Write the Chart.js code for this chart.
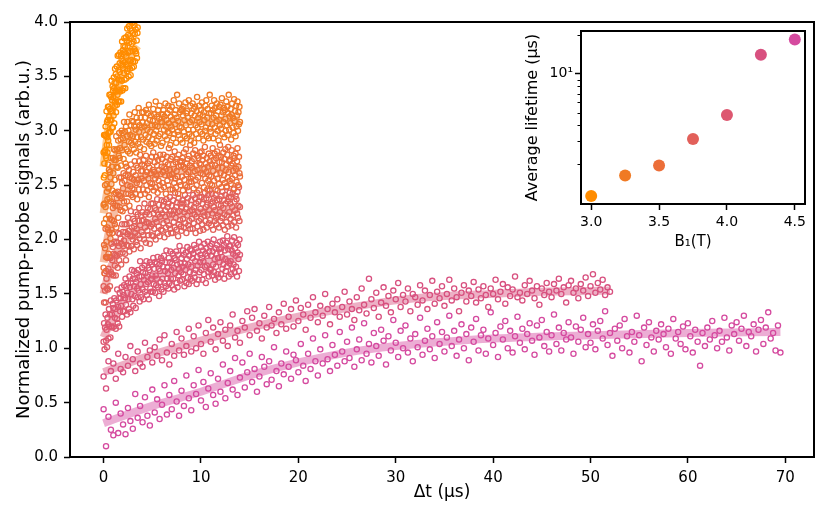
<!DOCTYPE html>
<html>
<head>
<meta charset="utf-8">
<script src="https://cdn.jsdelivr.net/npm/chart.js@4.4.0/dist/chart.umd.min.js"></script>
<style>
  body { margin: 0; background: #fff; }
  #wrap { position: relative; width: 830px; height: 519px; }
  #inset { position: absolute; left: 500px; top: 20px; }
</style>
</head>
<body>
<div id="wrap">
  <canvas id="mainChart" width="830" height="519"></canvas>
  <canvas id="inset" width="320" height="240"></canvas>
</div>
<script>
// field values B1 (T) and average lifetimes (us) for the inset
const fields = [3.0, 3.25, 3.5, 3.75, 4.0, 4.25, 4.5];
const lifetimes = [1.14, 1.64, 1.96, 3.14, 4.81, 14.0, 18.3];
const colors = ['#ff8c00', '#f07a24', '#ec6e38', '#e2605a', '#dd5770', '#d8507f', '#d54a9f'];

// sampling step (us) of each trace
const steps = [0.025, 0.05, 0.05, 0.05, 0.05, 0.25, 0.25];

// normalized signal (one row per 0.5 us / 1 us)
const y30 = [
  2.80,2.57,2.96,2.70,2.81,2.59,2.96,2.82,3.04,2.77,2.95,2.75,3.18,2.87,3.08,2.94,2.80,3.10,3.22,2.91,
  2.98,3.22,2.87,3.13,3.33,2.99,3.20,3.10,3.33,2.99,3.18,3.31,3.10,3.46,3.03,3.28,3.18,3.41,3.03,3.37,
  3.31,3.14,3.49,3.39,3.07,3.44,3.26,3.57,3.23,3.36,3.52,3.17,3.44,3.36,3.59,3.24,3.50,3.33,3.69,3.38,
  3.27,3.56,3.47,3.70,3.37,3.27,3.62,3.54,3.36,3.72,3.47,3.69,3.27,3.61,3.66,3.46,3.82,3.37,3.60,3.74,
  3.64,3.39,3.78,3.53,3.72,3.85,3.47,3.63,3.77,3.39,3.71,3.61,3.86,3.48,3.69,3.83,3.55,3.94,3.61,3.78,
  3.57,3.88,3.72,3.50,3.96,3.81,3.64,3.87,3.57,3.94,3.73,3.51,3.85,4.03,3.65,3.80,3.92,3.58,3.99,3.73,
  3.90,3.64,4.00,3.82,3.59,4.07,3.75,3.97,3.89,3.64,4.05,3.73,3.93,4.12,3.71,4.02,3.83,3.67,4.09,3.90,
  3.95];

const y325 = [
  2.32,2.15,2.33,2.50,2.30,2.19,2.51,2.44,2.37,2.69,2.47,2.64,2.38,2.62,2.57,2.75,2.51,2.67,2.45,2.75,
  2.61,2.83,2.73,2.55,2.82,2.73,2.95,2.67,2.83,2.66,2.91,2.77,2.98,2.75,2.84,2.92,2.68,3.00,2.82,2.98,
  2.93,2.74,3.08,2.87,2.99,2.70,3.04,2.83,2.95,3.08,2.81,3.00,2.90,3.15,2.79,2.96,3.05,2.89,3.09,2.87,
  2.95,3.08,2.83,3.04,3.17,2.90,3.01,2.80,3.12,2.94,3.08,2.88,3.21,2.99,3.05,2.85,3.12,2.94,3.03,3.17,
  3.08,2.92,3.17,2.83,3.04,3.12,2.96,3.19,2.90,3.07,3.01,3.16,2.94,3.24,2.88,3.10,2.99,3.14,2.86,3.05,
  2.92,3.09,3.20,2.97,3.15,2.88,3.05,3.27,3.00,2.91,3.13,3.04,3.19,2.95,3.11,3.23,2.97,3.08,2.86,3.15,
  3.08,2.89,3.15,3.19,3.01,3.13,2.95,3.25,3.04,3.10,2.92,3.16,2.99,3.23,3.07,2.98,3.19,2.87,3.13,3.04,
  3.22,3.01,3.10,2.93,3.28,2.97,3.15,3.06,3.19,2.89,3.12,3.33,2.99,3.09,2.96,3.25,3.04,3.17,2.92,3.19,
  3.03,3.20,2.89,3.14,3.22,2.99,3.10,2.95,3.26,3.05,3.16,2.93,3.18,3.12,3.01,3.28,2.97,3.08,3.23,2.91,
  3.16,2.95,3.10,3.25,3.01,3.20,2.89,3.14,3.22,3.05,2.97,3.18,3.31,3.03,3.12,2.93,3.23,3.08,3.15,2.99,
  3.19,3.06,3.26,2.97,3.14,2.91,3.17,3.10,3.00,3.23,3.03,3.28,2.95,3.12,3.20,3.07,2.93,3.16,3.33,3.02,
  2.99,3.16,3.23,3.06,3.19,2.93,3.12,3.28,3.03,3.21,2.97,3.14,3.09,3.25,3.00,3.18,2.91,3.22,3.10,3.05,
  3.24,3.02,3.14,3.30,2.97,3.17,3.08,3.21,2.94,3.19,3.11,3.00,3.27,3.05,3.22,2.96,3.16,3.33,3.01,3.13,
  3.07,3.20,2.92,3.15,3.25,3.03,3.12,2.98,3.29,3.09,3.18,2.95,3.23,3.04,3.14,3.27,3.00,3.17,3.06,3.22,
  3.08];

const y35 = [
  1.74,1.95,1.69,1.92,2.10,1.84,1.98,1.84,2.11,2.09,1.87,2.22,2.06,2.19,2.01,2.35,2.09,2.18,2.06,2.29,
  2.33,2.17,2.42,2.14,2.31,2.43,2.11,2.38,2.31,2.44,2.20,2.41,2.57,2.30,2.40,2.27,2.57,2.38,2.52,2.26,
  2.47,2.61,2.35,2.54,2.29,2.59,2.42,2.67,2.35,2.50,2.59,2.42,2.64,2.31,2.57,2.49,2.69,2.41,2.56,2.47,
  2.39,2.62,2.55,2.46,2.72,2.42,2.59,2.68,2.52,2.37,2.66,2.55,2.46,2.72,2.51,2.78,2.41,2.63,2.56,2.69,
  2.63,2.46,2.73,2.54,2.68,2.42,2.59,2.77,2.50,2.62,2.45,2.70,2.56,2.39,2.66,2.72,2.52,2.61,2.48,2.76,
  2.51,2.64,2.80,2.45,2.62,2.71,2.56,2.48,2.76,2.59,2.68,2.43,2.73,2.54,2.64,2.50,2.78,2.60,2.46,2.67,
  2.74,2.52,2.62,2.78,2.48,2.67,2.59,2.71,2.42,2.65,2.76,2.54,2.69,2.50,2.84,2.59,2.64,2.46,2.74,2.57,
  2.60,2.76,2.46,2.69,2.65,2.52,2.81,2.56,2.71,2.48,2.63,2.74,2.58,2.42,2.78,2.67,2.53,2.72,2.50,2.68,
  2.72,2.58,2.75,2.45,2.67,2.80,2.55,2.65,2.50,2.83,2.60,2.70,2.48,2.74,2.62,2.77,2.53,2.68,2.87,2.56,
  2.53,2.72,2.66,2.58,2.79,2.47,2.74,2.63,2.82,2.55,2.68,2.50,2.77,2.64,2.57,2.75,2.45,2.70,2.80,2.61,
  2.69,2.81,2.52,2.73,2.60,2.77,2.48,2.65,2.85,2.56,2.70,2.62,2.75,2.46,2.67,2.54,2.79,2.59,2.72,2.51,
  2.77,2.58,2.69,2.50,2.84,2.63,2.73,2.54,2.79,2.68,2.46,2.75,2.60,2.81,2.56,2.66,2.77,2.51,2.71,2.87,
  2.61,2.76,2.48,2.71,2.66,2.55,2.80,2.59,2.74,2.52,2.83,2.64,2.69,2.49,2.78,2.57,2.85,2.62,2.72,2.54,
  2.73,2.51,2.68,2.82,2.56,2.70,2.63,2.77,2.47,2.75,2.59,2.79,2.65,2.53,2.72,2.84,2.50,2.67,2.76,2.61,
  2.58];

const y375 = [
  1.57,1.42,1.69,1.53,1.42,1.71,1.64,1.55,1.83,1.54,1.73,1.68,1.84,1.57,1.83,1.70,1.96,1.68,1.81,1.93,
  1.67,1.87,1.98,1.76,1.86,1.67,1.98,1.85,1.97,1.74,2.06,1.94,1.81,2.05,1.87,2.01,1.77,1.96,2.14,1.88,
  2.07,1.94,1.99,2.14,1.87,2.07,1.81,2.14,1.95,2.05,2.20,1.94,2.08,1.89,2.15,2.03,2.26,1.94,2.11,2.03,
  2.00,2.19,1.91,2.12,2.17,2.06,2.25,1.98,2.10,1.95,2.23,2.04,2.17,2.29,2.01,2.13,1.92,2.22,2.07,2.17,
  2.25,2.04,2.18,2.00,2.33,2.11,2.23,1.97,2.16,2.25,2.08,2.29,2.04,2.15,2.23,1.96,2.28,2.12,2.33,2.04,
  2.14,2.33,2.03,2.24,2.10,2.29,2.19,2.00,2.27,2.16,2.37,2.06,2.23,2.12,2.32,2.03,2.21,2.27,2.09,2.36,
  2.24,2.08,2.31,2.15,2.35,2.02,2.27,2.21,2.11,2.37,2.17,2.30,2.05,2.33,2.13,2.23,2.39,2.10,2.26,2.06,
  2.31,2.23,2.06,2.36,2.16,2.27,2.11,2.43,2.20,2.30,2.09,2.34,2.25,2.03,2.38,2.14,2.26,2.18,2.33,2.12,
  2.08,2.30,2.36,2.19,2.33,2.11,2.25,2.41,2.15,2.28,2.06,2.34,2.22,2.38,2.13,2.45,2.17,2.26,2.10,2.32,
  2.36,2.19,2.27,2.10,2.41,2.15,2.30,2.23,2.38,2.06,2.33,2.21,2.43,2.12,2.25,2.35,2.17,2.39,2.08,2.28,
  2.19,2.39,2.14,2.33,2.25,2.09,2.37,2.22,2.43,2.17,2.30,2.38,2.11,2.32,2.23,2.41,2.15,2.27,2.45,2.18,
  2.33,2.13,2.42,2.24,2.35,2.09,2.30,2.38,2.17,2.27,2.41,2.20,2.14,2.36,2.45,2.22,2.32,2.11,2.37,2.25,
  2.17,2.31,2.40,2.20,2.44,2.13,2.29,2.36,2.23,2.09,2.41,2.33,2.16,2.48,2.22,2.35,2.12,2.39,2.25,2.43,
  2.33,2.19,2.39,2.13,2.30,2.42,2.22,2.46,2.16,2.35,2.27,2.40,2.11,2.37,2.24,2.44,2.20,2.31,2.48,2.17,
  2.30];

const y40 = [
  1.06,1.23,0.99,1.19,1.31,1.07,1.17,1.01,1.28,1.22,1.09,1.36,1.20,1.31,1.10,1.44,1.20,1.31,1.19,1.41,
  1.37,1.20,1.46,1.28,1.36,1.18,1.44,1.27,1.54,1.23,1.38,1.46,1.20,1.51,1.34,1.46,1.39,1.56,1.29,1.52,
  1.34,1.49,1.58,1.34,1.46,1.64,1.40,1.57,1.31,1.51,1.60,1.45,1.36,1.66,1.56,1.33,1.60,1.50,1.72,1.45,
  1.64,1.39,1.57,1.71,1.48,1.64,1.37,1.61,1.69,1.55,1.47,1.72,1.53,1.66,1.43,1.80,1.59,1.47,1.66,1.74,
  1.54,1.70,1.45,1.63,1.76,1.52,1.69,1.59,1.80,1.49,1.66,1.61,1.74,1.45,1.72,1.79,1.55,1.64,1.52,1.77,
  1.67,1.52,1.83,1.59,1.73,1.79,1.51,1.67,1.58,1.78,1.64,1.84,1.56,1.73,1.48,1.77,1.71,1.61,1.83,1.54,
  1.80,1.64,1.75,1.52,1.85,1.60,1.71,1.79,1.57,1.90,1.64,1.74,1.69,1.55,1.83,1.60,1.79,1.89,1.64,1.72,
  1.58,1.78,1.87,1.64,1.74,1.54,1.83,1.69,1.81,1.89,1.60,1.77,1.56,1.86,1.67,1.73,1.94,1.62,1.78,1.70,
  1.83,1.63,1.75,1.90,1.68,1.86,1.57,1.78,1.72,1.88,1.60,1.82,1.93,1.65,1.77,1.59,1.85,1.70,1.91,1.64,
  1.75,1.90,1.62,1.83,1.87,1.69,1.95,1.65,1.80,1.72,1.92,1.59,1.84,1.76,1.89,1.63,1.98,1.70,1.79,1.86,
  1.93,1.72,1.83,1.63,1.90,1.80,1.68,1.96,1.75,1.87,1.60,1.92,1.76,1.85,1.98,1.70,1.66,1.89,1.73,1.94,
  1.72,1.85,1.96,1.67,1.89,1.77,2.00,1.70,1.82,1.63,1.92,1.75,1.87,1.95,1.68,1.83,1.65,1.91,1.79,1.98,
  1.88,1.68,1.92,1.84,1.73,1.99,1.77,1.95,1.64,1.90,1.82,1.71,1.97,1.75,2.03,1.80,1.91,1.66,1.94,1.78,
  1.94,1.80,1.68,1.90,1.99,1.73,1.87,1.77,2.02,1.70,1.92,1.85,1.75,1.97,1.66,1.88,1.95,1.82,1.71,2.00,
  1.86];

const y425 = [0.74,0.63,0.88,0.79, 0.86,0.72,0.95,0.81, 0.78,0.92,0.84,1.02, 0.90,0.79,0.97,0.86,
  0.83,1.05,0.92,0.98, 0.87,1.01,0.93,1.08, 0.89,1.12,0.96,0.85, 1.04,0.93,1.15,0.98,
  1.09,0.94,1.02,1.18, 0.97,1.11,1.00,1.21, 1.04,0.95,1.14,1.26, 1.06,1.19,0.99,1.13,
  1.24,1.07,1.17,1.02, 1.21,1.31,1.10,1.16, 1.05,1.25,1.19,1.34, 1.12,1.28,1.36,1.16,
  1.23,1.09,1.30,1.19, 1.38,1.21,1.27,1.14, 1.33,1.22,1.41,1.18, 1.29,1.36,1.20,1.44,
  1.25,1.37,1.31,1.17, 1.40,1.28,1.47,1.33, 1.24,1.39,1.30,1.50, 1.36,1.22,1.41,1.33,
  1.45,1.29,1.38,1.52, 1.31,1.43,1.36,1.26, 1.47,1.35,1.55,1.40, 1.32,1.64,1.45,1.37,
  1.51,1.29,1.42,1.56, 1.39,1.48,1.33,1.53, 1.45,1.60,1.38,1.49, 1.43,1.55,1.34,1.50,
  1.47,1.40,1.58,1.44, 1.53,1.36,1.49,1.62, 1.41,1.52,1.46,1.57, 1.39,1.50,1.63,1.44,
  1.55,1.47,1.34,1.51, 1.58,1.43,1.53,1.48, 1.61,1.42,1.54,1.46, 1.57,1.49,1.38,1.55,
  1.50,1.63,1.45,1.52, 1.59,1.41,1.56,1.48, 1.54,1.66,1.47,1.51, 1.44,1.58,1.50,1.62,
  1.53,1.46,1.57,1.40, 1.55,1.49,1.60,1.52, 1.47,1.59,1.53,1.64, 1.50,1.56,1.42,1.58,
  1.62,1.51,1.55,1.46, 1.59,1.53,1.65,1.48, 1.57,1.68,1.51,1.60, 1.54,1.63,1.49,1.56, 1.52];

const y45 = [0.44,0.10,0.37,0.25, 0.20,0.50,0.22,0.40, 0.30,0.21,0.45,0.33, 0.26,0.58,0.36,0.47,
  0.32,0.55,0.38,0.29, 0.62,0.41,0.53,0.35, 0.48,0.66,0.39,0.57, 0.44,0.70,0.51,0.38,
  0.61,0.47,0.75,0.54, 0.43,0.66,0.58,0.80, 0.52,0.69,0.46,0.63, 0.77,0.57,0.49,0.72,
  0.60,0.85,0.54,0.68, 0.79,0.62,0.91,0.57, 0.73,0.87,0.64,0.78, 0.95,0.69,0.81,0.60,
  0.74,0.92,0.83,0.67, 0.88,0.71,1.01,0.79, 0.65,0.86,0.76,0.97, 0.83,0.72,0.94,0.89,
  0.78,1.04,0.84,0.70, 0.95,0.81,1.09,0.88, 0.75,0.99,0.86,1.12, 0.90,0.79,1.03,0.94,
  0.84,1.15,0.97,0.88, 1.06,0.91,1.19,0.83, 0.99,1.08,0.89,1.23, 0.95,1.04,0.87,1.14,
  1.02,0.93,1.17,1.07, 0.85,1.11,0.98,1.26, 1.05,0.92,1.16,1.00, 1.21,0.96,1.09,0.88,
  1.13,1.01,1.28,0.94, 1.07,1.18,0.99,1.11, 0.91,1.24,1.04,1.15, 0.97,1.10,1.30,1.02,
  1.16,0.93,1.08,1.22, 1.00,1.13,0.89,1.19, 1.06,1.27,0.98,1.12, 1.17,0.95,1.09,1.33,
  1.03,1.14,0.92,1.20, 1.08,1.25,1.00,1.16, 0.96,1.11,1.29,1.05, 1.18,0.99,1.13,1.23,
  1.07,0.94,1.21,1.10, 1.26,1.02,1.15,0.97, 1.12,1.31,1.04,1.19, 0.98,1.14,1.08,1.24,
  1.10,0.95,1.20,1.06, 1.17,1.28,1.01,1.13, 1.05,1.22,0.99,1.16, 1.25,1.09,1.34,1.03,
  1.14,0.93,1.18,1.07, 1.21,1.00,1.27,1.11, 0.96,1.15,1.06,1.30, 1.12,0.88,1.19,1.03,
  1.24,1.10,0.97,1.16, 1.08,1.22,1.13,1.01, 1.18,0.95,1.27,1.09, 1.15,1.04,1.20,0.99,
  1.23,1.11,0.96,1.17, 1.06,0.84,1.14,1.02, 1.19,1.08,1.25,1.12, 1.00,1.16,1.06,1.28,
  1.10,0.98,1.21,1.13, 1.24,1.07,1.18,1.30, 1.02,1.15,1.11,1.22, 0.97,1.17,1.26,1.04,
  1.19,1.33,1.09,1.14, 0.98,1.21,0.96];

const signals = [y30, y325, y35, y375, y40, y425, y45];

// fitted curves (x, y)
const fitX30 = [0, 0.5, 1, 1.5, 2, 2.5, 3, 3.5];
const fitY30 = [2.67, 3.03, 3.25, 3.41, 3.54, 3.64, 3.72, 3.78];
const fitX325 = [0, 0.5, 1, 1.5, 2, 3, 4, 6, 10, 14];
const fitY325 = [2.24, 2.50, 2.68, 2.80, 2.89, 2.97, 3.02, 3.06, 3.09, 3.10];
const fitX35 = [0, 0.5, 1, 1.5, 2, 3, 4, 6, 10, 14];
const fitY35 = [1.79, 2.05, 2.22, 2.35, 2.44, 2.53, 2.57, 2.61, 2.64, 2.65];
const fitX375 = [0, 0.5, 1, 2, 3, 4, 6, 8, 10, 14];
const fitY375 = [1.50, 1.68, 1.80, 1.97, 2.06, 2.12, 2.19, 2.23, 2.25, 2.28];
const fitX40 = [0, 0.5, 1, 2, 3, 4, 6, 8, 10, 12, 14];
const fitY40 = [1.10, 1.20, 1.29, 1.43, 1.53, 1.60, 1.68, 1.73, 1.78, 1.81, 1.84];
const fitX425 = [0, 5, 10, 15, 20, 25, 30, 35, 40, 45, 52];
const fitY425 = [0.78, 0.94, 1.07, 1.19, 1.29, 1.37, 1.44, 1.48, 1.50, 1.52, 1.53];
const fitX45 = [0, 5, 10, 15, 20, 25, 30, 35, 40, 50, 60, 69.5];
const fitY45 = [0.31, 0.47, 0.60, 0.75, 0.87, 0.96, 1.02, 1.06, 1.09, 1.12, 1.14, 1.15];

const fitXs = [fitX30, fitX325, fitX35, fitX375, fitX40, fitX425, fitX45];
const fitYs = [fitY30, fitY325, fitY35, fitY375, fitY40, fitY425, fitY45];

// tick labels
const xTicks = [0, 10, 20, 30, 40, 50, 60, 70];
const yTicks = [0, 0.5, 1, 1.5, 2, 2.5, 3, 3.5, 4];
const insetXTicks = [3.0, 3.5, 4.0, 4.5];
const insetMinor = [2, 3, 4, 5, 6, 7, 8, 9, 20];

const FONT = 'DejaVu Sans';

function rgba(hex, a) {
  const n = parseInt(hex.slice(1), 16);
  return 'rgba(' + (n >> 16) + ',' + ((n >> 8) & 255) + ',' + (n & 255) + ',' + a + ')';
}

// white plot area and black box round it
const frame = {
  id: 'frame',
  beforeDatasetsDraw(chart) {
    const a = chart.chartArea, c = chart.ctx;
    c.save();
    c.fillStyle = '#fff';
    c.fillRect(a.left, a.top, a.right - a.left, a.bottom - a.top);
    c.restore();
  },
  afterDraw(chart) {
    const a = chart.chartArea, c = chart.ctx;
    c.save();
    c.strokeStyle = '#000';
    c.lineWidth = 2;
    c.strokeRect(a.left, a.top, a.right - a.left, a.bottom - a.top);
    c.restore();
  }
};

// main plot
const datasets = [];
signals.forEach((ys, k) => {
  datasets.push({
    type: 'scatter',
    data: ys.map((v, i) => ({ x: i * steps[k], y: v })),
    borderColor: colors[k],
    backgroundColor: 'rgba(255,255,255,0)',
    pointRadius: 2.6,
    borderWidth: 1.3,
    order: 2
  });
  datasets.push({
    type: 'line',
    data: fitXs[k].map((x, i) => ({ x: x, y: fitYs[k][i] })),
    borderColor: rgba(colors[k], 0.45),
    borderWidth: 8,
    borderCapStyle: 'butt',
    pointRadius: 0,
    cubicInterpolationMode: 'monotone',
    fill: false,
    order: 1
  });
});

const tickFont = { family: FONT, size: 15 };

new Chart(document.getElementById('mainChart'), {
  type: 'scatter',
  data: { datasets: datasets },
  plugins: [frame],
  options: {
    responsive: false,
    animation: false,
    layout: { padding: { top: 22, right: 16, left: 0, bottom: 0 } },
    plugins: { legend: { display: false }, tooltip: { enabled: false } },
    scales: {
      x: {
        type: 'linear',
        min: -3.45,
        max: 72.95,
        afterBuildTicks: s => { s.ticks = xTicks.map(v => ({ value: v })); },
        afterFit: s => { s.height = 62; },
        grid: { drawOnChartArea: false, tickLength: 6, tickWidth: 1.5, tickColor: '#000' },
        border: { display: false },
        ticks: { color: '#000', font: tickFont, padding: 6, maxRotation: 0 },
        title: { display: true, text: 'Δt (μs)', color: '#000', font: { family: FONT, size: 17 }, padding: { top: 0, bottom: 16 } }
      },
      y: {
        min: 0,
        max: 4,
        afterBuildTicks: s => { s.ticks = yTicks.map(v => ({ value: v })); },
        afterFit: s => { s.width = 70; },
        grid: { drawOnChartArea: false, tickLength: 6, tickWidth: 1.5, tickColor: '#000' },
        border: { display: false },
        ticks: { color: '#000', font: tickFont, padding: 6, callback: v => v.toFixed(1) },
        title: { display: true, text: 'Normalized pump-probe signals (arb.u.)', color: '#000', font: { family: FONT, size: 18 }, padding: { top: 14, bottom: 0 } }
      }
    }
  }
});

// inset: lifetime against field, log y axis
const minorTicks = {
  id: 'minorTicks',
  afterDraw(chart) {
    const y = chart.scales.y, c = chart.ctx, left = chart.chartArea.left;
    c.save();
    c.strokeStyle = '#000';
    c.lineWidth = 1;
    insetMinor.forEach(v => {
      if (v < y.min || v > y.max) return;
      const p = Math.round(y.getPixelForValue(v)) + 0.5;
      c.beginPath();
      c.moveTo(left, p);
      c.lineTo(left - 3.5, p);
      c.stroke();
    });
    c.restore();
  }
};

new Chart(document.getElementById('inset'), {
  type: 'scatter',
  data: {
    datasets: [{
      data: fields.map((b, i) => ({ x: b, y: lifetimes[i] })),
      backgroundColor: colors,
      borderWidth: 0,
      pointRadius: 6
    }]
  },
  plugins: [frame, minorTicks],
  options: {
    responsive: false,
    animation: false,
    layout: { padding: { top: 11, right: 15, left: 0, bottom: 0 } },
    plugins: { legend: { display: false }, tooltip: { enabled: false } },
    scales: {
      x: {
        type: 'linear',
        min: 2.925,
        max: 4.575,
        afterBuildTicks: s => { s.ticks = insetXTicks.map(v => ({ value: v })); },
        afterFit: s => { s.height = 56; },
        grid: { drawOnChartArea: false, tickLength: 6, tickWidth: 1.5, tickColor: '#000' },
        border: { display: false },
        ticks: { color: '#000', font: { family: FONT, size: 14 }, padding: 4, maxRotation: 0, callback: v => v.toFixed(1) },
        title: { display: true, text: 'B₁(T)', color: '#000', font: { family: FONT, size: 15 }, padding: { top: 0, bottom: 9 } }
      },
      y: {
        type: 'logarithmic',
        min: 0.99,
        max: 21.3,
        afterBuildTicks: s => { s.ticks = [{ value: 10 }]; },
        afterFit: s => { s.width = 81; },
        grid: { drawOnChartArea: false, tickLength: 6, tickWidth: 1.5, tickColor: '#000' },
        border: { display: false },
        ticks: { color: '#000', font: { family: FONT, size: 14 }, padding: 2, callback: () => '10¹' },
        title: { display: true, text: 'Average lifetime (μs)', color: '#000', font: { family: FONT, size: 16 }, padding: { top: 23, bottom: 0 } }
      }
    }
  }
});
</script>
</body>
</html>
